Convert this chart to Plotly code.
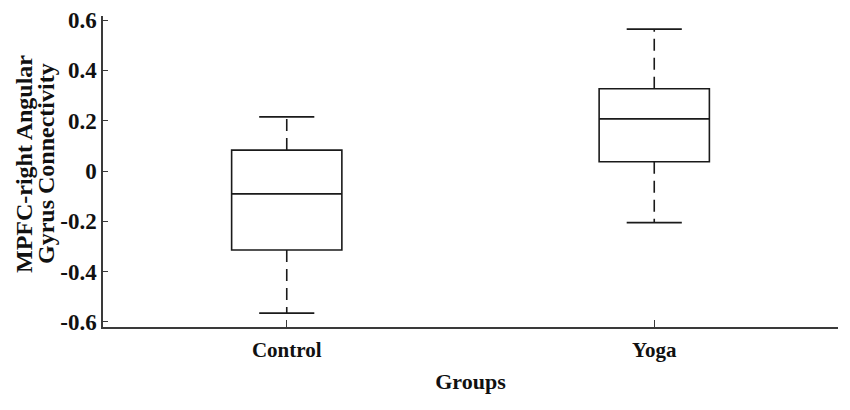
import plotly.graph_objects as go

# ---- data ----
groups = ["Control", "Yoga"]
positions = [1, 2]
lower_whisker = [-0.565, -0.205]
q1 = [-0.314, 0.037]
median = [-0.091, 0.207]
q3 = [0.083, 0.327]
upper_whisker = [0.215, 0.564]
y_ticks = [-0.6, -0.4, -0.2, 0, 0.2, 0.4, 0.6]
y_tick_labels = ["-0.6", "-0.4", "-0.2", "0", "0.2", "0.4", "0.6"]
y_title_lines = ["MPFC-right Angular", "Gyrus Connectivity"]
x_title = "Groups"

LINE = "#1a1a1a"
AXIS = "#3a3a3a"
TXT = "#111111"
FONT = "Liberation Serif"
BOX_W = 0.3
CAP_W = 0.15
L, R, T, B = 103, 12, 16, 83
W, H = 850, 410
PW = W - L - R

fig = go.Figure()

# box bodies
fig.add_trace(go.Box(
    x=positions, q1=q1, median=median, q3=q3,
    lowerfence=q1, upperfence=q3,
    width=BOX_W, whiskerwidth=0,
    fillcolor="white", line=dict(color=LINE, width=1.6),
    boxpoints=False, showlegend=False, hoverinfo="skip",
))

# dashed whiskers and solid caps
for p, lo, a, b, hi in zip(positions, lower_whisker, q1, q3, upper_whisker):
    fig.add_trace(go.Scatter(
        x=[p, p, None, p, p], y=[b, hi, None, a, lo],
        mode="lines", line=dict(color=LINE, width=1.6, dash="12px,7px"),
        showlegend=False, hoverinfo="skip",
    ))
    fig.add_trace(go.Scatter(
        x=[p - CAP_W / 2, p + CAP_W / 2, None, p - CAP_W / 2, p + CAP_W / 2],
        y=[hi, hi, None, lo, lo],
        mode="lines", line=dict(color=LINE, width=1.6),
        showlegend=False, hoverinfo="skip",
    ))

# y-axis title: two tightly spaced rotated lines
for text, px in zip(y_title_lines, [24, 46]):
    fig.add_annotation(
        text="<b>%s</b>" % text, textangle=-90,
        xref="paper", yref="paper", x=(px - L) / PW, y=0.5 + (171.5 - 164) / (H - T - B),
        xanchor="center", yanchor="middle", showarrow=False,
        font=dict(family=FONT, size=24, color=TXT),
    )

fig.update_layout(
    width=W, height=H,
    margin=dict(l=L, r=R, t=T, b=B, autoexpand=False),
    paper_bgcolor="white", plot_bgcolor="white",
    font=dict(family=FONT, size=22, color=TXT),
    xaxis=dict(
        range=[0.5, 2.5], tickmode="array", tickvals=positions,
        ticktext=["<b>%s</b>" % g for g in groups],
        ticks="inside", ticklen=7, tickcolor=AXIS, tickwidth=1.2,
        showline=True, linecolor=AXIS, linewidth=1.5, showgrid=False, zeroline=False,
        automargin=False, ticklabelstandoff=3,
        tickfont=dict(family=FONT, size=21, color=TXT),
        title=dict(text="<b>%s</b>" % x_title, standoff=13,
                   font=dict(family=FONT, size=22, color=TXT)),
    ),
    yaxis=dict(
        range=[-0.62, 0.616], tickmode="array", tickvals=y_ticks,
        ticktext=["<b>%s</b>" % t for t in y_tick_labels],
        ticks="inside", ticklen=5, tickcolor=AXIS, tickwidth=1.2,
        showline=True, linecolor=AXIS, linewidth=1.5, showgrid=False, zeroline=False,
        automargin=False,
        tickfont=dict(family=FONT, size=23, color=TXT),
    ),
)

fig.write_html("out.html", config={"displayModeBar": False},
               post_script="document.body.style.margin='0';")
